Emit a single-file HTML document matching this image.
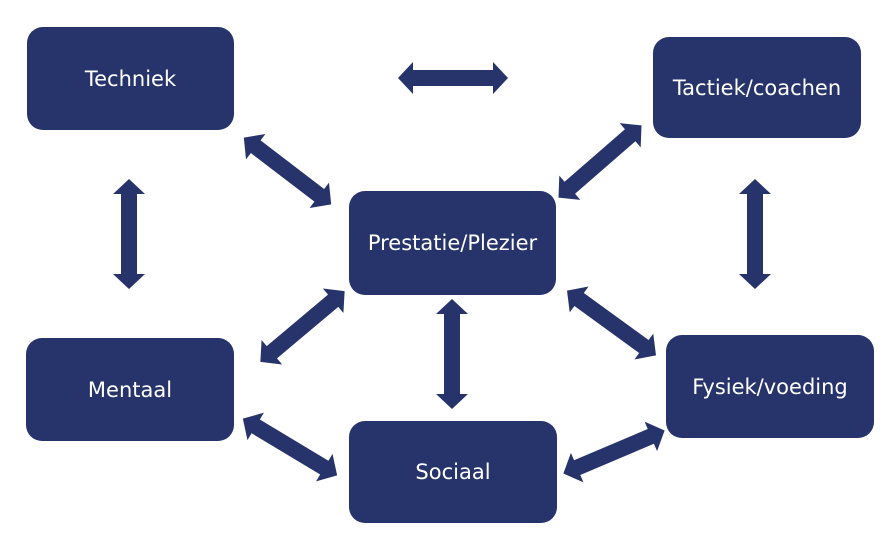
<!DOCTYPE html>
<html><head><style>
body{margin:0;width:888px;height:542px;background:#fff;overflow:hidden;position:relative;font-family:"DejaVu Sans","Liberation Sans",sans-serif}
.b{position:absolute;background:#27346c;border-radius:16px;color:#fff;font-size:21px;display:flex;align-items:center;justify-content:center}
svg{position:absolute;left:0;top:0}
</style></head><body>
<div class="b" style="left:27px;top:27px;width:207px;height:103px">Techniek</div>
<div class="b" style="left:653px;top:37px;width:208px;height:101px">Tactiek/coachen</div>
<div class="b" style="left:349px;top:191px;width:207px;height:104px">Prestatie/Plezier</div>
<div class="b" style="left:26px;top:338px;width:208px;height:103px">Mentaal</div>
<div class="b" style="left:666px;top:335px;width:208px;height:103px">Fysiek/voeding</div>
<div class="b" style="left:349px;top:421px;width:208px;height:102px">Sociaal</div>
<svg width="888" height="542">
<defs><polygon id="a" fill="#27346c" points="-55,0 -40,-16 -40,-8 40,-8 40,-16 55,0 40,16 40,8 -40,8 -40,16"/></defs>
<use href="#a" transform="translate(453,78)"/>
<use href="#a" transform="translate(287.5,171) rotate(37.4)"/>
<use href="#a" transform="translate(600,161.5) rotate(139)"/>
<use href="#a" transform="translate(129,234) rotate(90)"/>
<use href="#a" transform="translate(755,234) rotate(90)"/>
<use href="#a" transform="translate(302.5,326.5) rotate(140)"/>
<use href="#a" transform="translate(452,354) rotate(90)"/>
<use href="#a" transform="translate(611.5,323) rotate(36)"/>
<use href="#a" transform="translate(290,447) rotate(31)"/>
<use href="#a" transform="translate(614,452) rotate(-23)"/>
</svg>
</body></html>
